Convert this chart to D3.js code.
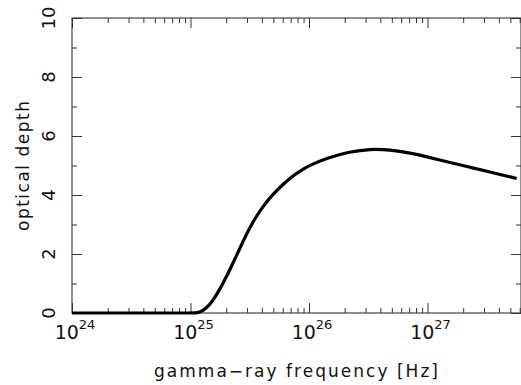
<!DOCTYPE html>
<html lang="en">
<head>
  <meta charset="UTF-8">
  <title>Optical depth</title>
  <script src="https://d3js.org/d3.v7.min.js"></script>
  <style>
    body { margin: 0; background: #fff; }
    svg { display: block; }
    .frame { fill: none; stroke: #222; stroke-width: 1px; }
    .tick line { stroke: #333; stroke-width: 1px; }
    .domain { display: none; }
    .curve { fill: none; stroke: #000; stroke-width: 3.2px; stroke-linejoin: round; }
    text { font-family: "DejaVu Sans", sans-serif; fill: #111; }
  </style>
</head>
<body>
  <svg id="chart" width="521" height="385"></svg>

  <script>
    // gamma-ray frequency (Hz) and optical depth
    const freq = [1e24, 5e24, 1.05e25, 1.128e25, 1.282e25, 1.461e25, 1.664e25, 1.892e25, 2.154e25,
      2.455e25, 2.79e25, 3.178e25, 3.62e25, 4.115e25, 4.687e25, 5.34e25, 6.069e25,
      7.372e25, 8.953e25, 1.087e26, 1.411e26, 2.218e26, 3.273e26, 4.831e26,
      7.112e26, 1.05e27, 1.549e27, 2.286e27, 3.365e27, 5.662e27];
    const depth = [0, 0, 0, 0, 0.08, 0.28, 0.62, 1.02, 1.48,
      1.96, 2.45, 2.91, 3.3, 3.62, 3.91, 4.15, 4.37,
      4.66, 4.89, 5.06, 5.25, 5.47, 5.56, 5.53,
      5.43, 5.27, 5.1, 4.94, 4.78, 4.56];

    const decades = [1e24, 1e25, 1e26, 1e27];
    const decadeExp = ["24", "25", "26", "27"];
    const yMajor = [0, 2, 4, 6, 8, 10];
    const yMinor = [1, 3, 5, 7, 9];

    const svg = d3.select("#chart");
    const mLeft = 72, mRight = 521, mTop = 18, mBottom = 313;

    const x = d3.scaleLog().domain([1e24, 6.15e27]).range([mLeft, mRight]);
    const y = d3.scaleLinear().domain([0, 10]).range([mBottom, mTop]);

    const xMinor = x.ticks().filter(v => !decades.includes(v));

    // frame
    svg.append("rect").attr("class", "frame")
      .attr("x", mLeft).attr("y", mTop)
      .attr("width", mRight - mLeft).attr("height", mBottom - mTop);

    function tickAxis(axis, values, size, tx, ty) {
      svg.append("g")
        .attr("transform", `translate(${tx},${ty})`)
        .call(axis.tickValues(values).tickSize(size).tickFormat(""));
    }

    // inward ticks on all four sides
    tickAxis(d3.axisBottom(x), decades, -10, 0, mBottom);
    tickAxis(d3.axisBottom(x), xMinor, -5, 0, mBottom);
    tickAxis(d3.axisTop(x), decades, -10, 0, mTop);
    tickAxis(d3.axisTop(x), xMinor, -5, 0, mTop);
    tickAxis(d3.axisLeft(y), yMajor, -10, mLeft, 0);
    tickAxis(d3.axisLeft(y), yMinor, -5, mLeft, 0);
    tickAxis(d3.axisRight(y), yMajor, -10, mRight, 0);
    tickAxis(d3.axisRight(y), yMinor, -5, mRight, 0);

    // x tick labels 10^n
    decades.forEach((d, i) => {
      const t = svg.append("text")
        .attr("x", x(d) + 3).attr("y", 339)
        .attr("text-anchor", "middle")
        .style("font-size", "19px");
      t.append("tspan").text("10");
      t.append("tspan").attr("dy", -10).style("font-size", "13px").text(decadeExp[i]);
    });

    // y tick labels, rotated
    yMajor.forEach(v => {
      svg.append("text")
        .attr("transform", `translate(55,${y(v)}) rotate(-90)`)
        .attr("text-anchor", "middle")
        .style("font-size", "18px")
        .text(v);
    });

    // axis titles
    svg.append("text")
      .attr("x", 296).attr("y", 377)
      .attr("text-anchor", "middle")
      .attr("textLength", 284)
      .style("font-size", "17px")
      .text("gamma\u2212ray frequency [Hz]");

    svg.append("text")
      .attr("transform", "translate(29,166) rotate(-90)")
      .attr("text-anchor", "middle")
      .attr("textLength", 130)
      .style("font-size", "17px")
      .text("optical depth");

    // the curve
    const line = d3.line()
      .x((d, i) => x(freq[i]))
      .y(d => y(d))
      .curve(d3.curveBasis);

    svg.append("path").attr("class", "curve").attr("d", line(depth));
  </script>
</body>
</html>
